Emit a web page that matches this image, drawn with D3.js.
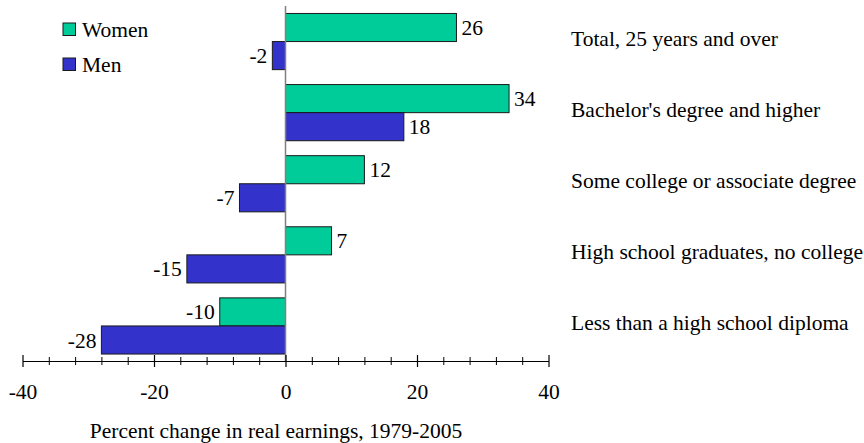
<!DOCTYPE html>
<html>
<head>
<meta charset="utf-8">
<script src="https://cdn.jsdelivr.net/npm/d3@7"></script>
<style>
  body { margin: 0; background: #fff; }
  svg { display: block; }
  svg text { font-family: "Liberation Serif", Tinos, "Times New Roman", Times, "Nimbus Roman", "DejaVu Serif", serif; }
</style>
</head>
<body>
<div id="chart"></div>
<script>
// data
var categories = [
  'Total, 25 years and over',
  "Bachelor's degree and higher",
  'Some college or associate degree',
  'High school graduates, no college',
  'Less than a high school diploma'
];
var series = ['Women', 'Men'];
var women = [26, 34, 12, 7, -10];
var men = [-2, 18, -7, -15, -28];
var majorTicks = [-40, -20, 0, 20, 40];
var minorTicks = [-36, -32, -28, -24, -16, -12, -8, -4, 4, 8, 12, 16, 24, 28, 32, 36];
var axisTitle = 'Percent change in real earnings, 1979-2005';

var width = 864, height = 443;
var colors = { Women: '#00cc99', Men: '#3333cc' };
var fontSize = 21.5;
var axisY = 361;

var svg = d3.select('#chart').append('svg')
  .attr('width', width)
  .attr('height', height);

// scales
var x = d3.scaleLinear().domain([-40, 40]).range([22.5, 548.5]);
var y = d3.scaleBand().domain(categories).range([6, 361.5])
  .paddingInner(0.21).paddingOuter(0.105);
var ySub = d3.scaleBand().domain(series).range([0, y.bandwidth()]);

var rows = categories.map(function (c, i) {
  return { cat: c, values: [{ s: 'Women', v: women[i] }, { s: 'Men', v: men[i] }] };
});

// bars
var groups = svg.selectAll('g.row')
  .data(rows)
  .enter().append('g')
  .attr('class', 'row')
  .attr('transform', function (d) { return 'translate(0,' + y(d.cat) + ')'; });

groups.selectAll('rect')
  .data(function (d) { return d.values; })
  .enter().append('rect')
  .attr('x', function (d) { return x(Math.min(0, d.v)); })
  .attr('y', function (d) { return ySub(d.s); })
  .attr('width', function (d) { return Math.abs(x(d.v) - x(0)); })
  .attr('height', ySub.bandwidth())
  .attr('fill', function (d) { return colors[d.s]; })
  .attr('stroke', '#1a1a1a')
  .attr('stroke-width', 1);

// value labels
groups.selectAll('text.val')
  .data(function (d) { return d.values; })
  .enter().append('text')
  .attr('class', 'val')
  .attr('x', function (d) { return d.v >= 0 ? x(d.v) + 5 : x(d.v) - 5; })
  .attr('y', function (d) { return ySub(d.s) + ySub.bandwidth() / 2; })
  .attr('dy', '0.35em')
  .attr('text-anchor', function (d) { return d.v >= 0 ? 'start' : 'end'; })
  .attr('font-size', fontSize)
  .attr('fill', '#000')
  .text(function (d) { return String(d.v); });

// category labels on the right
svg.selectAll('text.cat')
  .data(categories)
  .enter().append('text')
  .attr('class', 'cat')
  .attr('x', 571)
  .attr('y', function (d) { return y(d) + y.bandwidth() / 2 - 3; })
  .attr('dy', '0.35em')
  .attr('font-size', fontSize)
  .attr('fill', '#000')
  .text(function (d) { return d; });

// zero line
svg.append('line')
  .attr('x1', x(0)).attr('x2', x(0))
  .attr('y1', 6).attr('y2', axisY)
  .attr('stroke', '#808080')
  .attr('stroke-width', 1.5);

// minor ticks
var minorAxis = svg.append('g')
  .attr('transform', 'translate(0,' + axisY + ')')
  .call(d3.axisBottom(x).tickValues(minorTicks).tickFormat('').tickSize(4).tickSizeOuter(0));
minorAxis.select('.domain').remove();
minorAxis.selectAll('line').attr('y1', -4).attr('stroke', '#000');

// major ticks and labels
var majorAxis = svg.append('g')
  .attr('transform', 'translate(0,' + axisY + ')')
  .call(d3.axisBottom(x).tickValues(majorTicks)
    .tickFormat(function (d) { return String(d); })
    .tickSize(6).tickSizeOuter(0));
majorAxis.attr('font-family', null).attr('font-size', null);
majorAxis.select('.domain').attr('stroke', '#000').attr('stroke-width', 1.2);
majorAxis.selectAll('line').attr('y1', -6).attr('stroke', '#000').attr('stroke-width', 1.2);
majorAxis.selectAll('text')
  .attr('y', 38).attr('dy', null)
  .attr('font-size', fontSize)
  .attr('fill', '#000');

// axis title
svg.append('text')
  .attr('x', 276)
  .attr('y', 438)
  .attr('text-anchor', 'middle')
  .attr('font-size', fontSize)
  .attr('fill', '#000')
  .text(axisTitle);

// legend
var legend = svg.selectAll('g.legend')
  .data(series)
  .enter().append('g')
  .attr('class', 'legend')
  .attr('transform', function (d, i) { return 'translate(63,' + (23 + i * 35) + ')'; });
legend.append('rect')
  .attr('width', 12.5).attr('height', 12.5)
  .attr('fill', function (d) { return colors[d]; })
  .attr('stroke', '#1a1a1a')
  .attr('stroke-width', 1);
legend.append('text')
  .attr('x', 19)
  .attr('y', 6.5)
  .attr('dy', '0.35em')
  .attr('font-size', fontSize)
  .attr('fill', '#000')
  .text(function (d) { return d; });
</script>
</body>
</html>
